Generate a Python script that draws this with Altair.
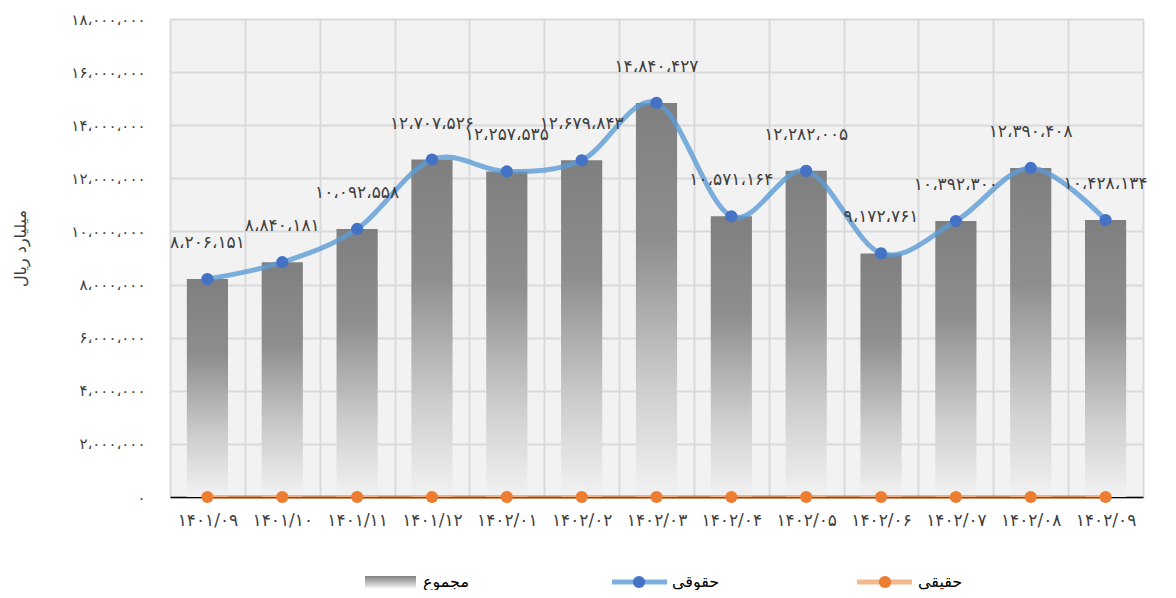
import json
import pandas as pd
import altair as alt

FA_DIGITS = str.maketrans("0123456789,", "۰۱۲۳۴۵۶۷۸۹،")


def to_fa(s):
    return str(s).translate(FA_DIGITS)


categories = ["1401/09", "1401/10", "1401/11", "1401/12", "1402/01", "1402/02", "1402/03",
              "1402/04", "1402/05", "1402/06", "1402/07", "1402/08", "1402/09"]
legal = [8206151, 8840181, 10092558, 12707526, 12257535, 12679843, 14840427,
         10571164, 12282005, 9172761, 10392300, 12390408, 10428134]
real = [0, 0, 0, 0, 0, 0, 0, 0, 0, 0, 0, 0, 0]
total = [8206151, 8840181, 10092558, 12707526, 12257535, 12679843, 14840427,
         10571164, 12282005, 9172761, 10392300, 12390408, 10428134]
y_tick_values = [0, 2000000, 4000000, 6000000, 8000000, 10000000, 12000000,
                 14000000, 16000000, 18000000]
y_tick_labels = [to_fa(f"{v:,}") for v in y_tick_values]
series_names = ["مجموع", "حقوقی", "حقیقی"]
y_title = "میلیارد ریال"

cats_fa = [to_fa(c) for c in categories]
df = pd.DataFrame({
    "cat": cats_fa,
    "legal": legal,
    "real": real,
    "total": total,
    "label": [to_fa(f"{v:,}") for v in legal],
})

FONT = "DejaVu Sans"
TXT = "#404040"

x_enc = alt.X("cat:N", sort=cats_fa, title=None,
              scale=alt.Scale(paddingInner=0, paddingOuter=0),
              axis=alt.Axis(labelAngle=0, labelPadding=15, labelFontSize=17, labelFont=FONT,
                            labelColor=TXT, ticks=False, grid=True, tickBand="extent",
                            gridColor="#d9d9d9", gridWidth=2, domainColor="#000000",
                            domainWidth=1.5))

yscale = alt.Scale(domain=[0, 18000000], nice=False)
label_expr = f"{json.dumps(y_tick_labels, ensure_ascii=False)}[indexof({json.dumps(y_tick_values)}, datum.value)]"
y_axis = alt.Axis(values=y_tick_values, labelExpr=label_expr, domain=False, ticks=False,
                  grid=True, gridColor="#d9d9d9", gridWidth=2, labelPadding=25,
                  labelFontSize=15, labelFont=FONT, labelColor=TXT,
                  title=y_title, titleFont=FONT, titleFontSize=16, titleFontWeight="normal",
                  titleColor=TXT, titleAngle=-90, titleX=-150, titleY=229,
                  titleAlign="center", titleBaseline="middle")

bar_grad = alt.Gradient(gradient="linear", x1=0, x2=0, y1=0, y2=1, stops=[
    alt.GradientStop(offset=0, color="#7f7f7f"),
    alt.GradientStop(offset=0.35, color="#8e8e8e"),
    alt.GradientStop(offset=0.72, color="#cdcdcd"),
    alt.GradientStop(offset=1, color="#f2f2f2"),
])

base = alt.Chart(df)
bars = base.mark_bar(color=bar_grad, width=alt.RelativeBandSize(0.55)).encode(
    x=x_enc, y=alt.Y("total:Q", scale=yscale, axis=y_axis))
real_line = base.mark_line(color="#ed7d31", opacity=0.55, strokeWidth=4).encode(
    x=alt.X("cat:N", sort=cats_fa), y=alt.Y("real:Q", scale=yscale))
real_pts = base.mark_circle(color="#ed7d31", size=150, opacity=1).encode(
    x=alt.X("cat:N", sort=cats_fa), y=alt.Y("real:Q", scale=yscale))
legal_line = base.mark_line(color="#5b9bd5", opacity=0.8, strokeWidth=5,
                            interpolate="cardinal").encode(
    x=alt.X("cat:N", sort=cats_fa), y=alt.Y("legal:Q", scale=yscale))
legal_pts = base.mark_circle(color="#4472c4", size=150, opacity=1).encode(
    x=alt.X("cat:N", sort=cats_fa), y=alt.Y("legal:Q", scale=yscale))
labels = base.mark_text(dy=-36, fontSize=17, font=FONT, color=TXT, baseline="middle").encode(
    x=alt.X("cat:N", sort=cats_fa), y=alt.Y("legal:Q", scale=yscale), text="label:N")

one = pd.DataFrame({"k": [0]})
LY = 563
leg_swatch = alt.Chart(one).mark_rect(
    color=alt.Gradient(gradient="linear", x1=0, x2=0, y1=0, y2=1, stops=[
        alt.GradientStop(offset=0, color="#7f7f7f"),
        alt.GradientStop(offset=1, color="#f2f2f2")])).encode(
    x=alt.value(195), x2=alt.value(246), y=alt.value(LY - 6), y2=alt.value(LY + 6))
leg_t1 = alt.Chart(one).mark_text(text=series_names[0], align="left", baseline="middle",
                                  fontSize=16, font=FONT, color="#000000").encode(
    x=alt.value(253), y=alt.value(LY))
leg_l2 = alt.Chart(one).mark_rule(color="#5b9bd5", opacity=0.8, strokeWidth=5).encode(
    x=alt.value(442), x2=alt.value(497), y=alt.value(LY))
leg_p2 = alt.Chart(one).mark_circle(color="#4472c4", size=150, opacity=1).encode(
    x=alt.value(469), y=alt.value(LY))
leg_t2 = alt.Chart(one).mark_text(text=series_names[1], align="left", baseline="middle",
                                  fontSize=16, font=FONT, color="#000000").encode(
    x=alt.value(502), y=alt.value(LY))
leg_l3 = alt.Chart(one).mark_rule(color="#ed7d31", opacity=0.55, strokeWidth=5).encode(
    x=alt.value(687), x2=alt.value(742), y=alt.value(LY))
leg_p3 = alt.Chart(one).mark_circle(color="#ed7d31", size=150, opacity=1).encode(
    x=alt.value(715), y=alt.value(LY))
leg_t3 = alt.Chart(one).mark_text(text=series_names[2], align="left", baseline="middle",
                                  fontSize=16, font=FONT, color="#000000").encode(
    x=alt.value(748), y=alt.value(LY))

chart = alt.layer(
    bars, real_line, real_pts, legal_line, legal_pts, labels,
    leg_swatch, leg_t1, leg_l2, leg_p2, leg_t2, leg_l3, leg_p3, leg_t3
).properties(
    width=973, height=478,
    padding={"left": 162, "top": 11, "right": 20, "bottom": 93},
    autosize=alt.AutoSizeParams(type="none"),
    background="#ffffff",
).configure_view(fill="#f2f2f2", strokeWidth=0)

chart.save("out.html", embed_options={"renderer": "svg", "actions": False})
